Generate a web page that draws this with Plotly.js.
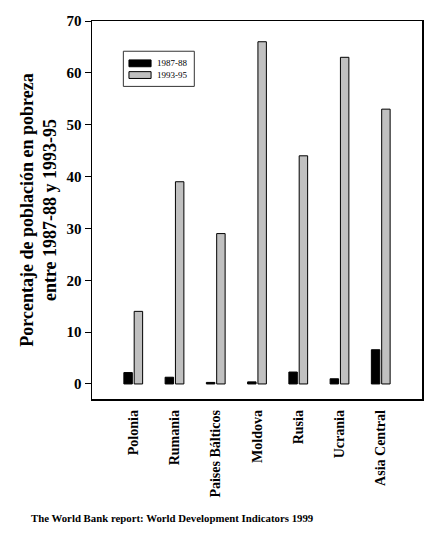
<!DOCTYPE html>
<html>
<head>
<meta charset="utf-8">
<script src="https://cdn.plot.ly/plotly-3.0.1.min.js"></script>
<style>
  html, body { margin: 0; padding: 0; background: #fff; }
  #chart { width: 443px; height: 540px; }
</style>
</head>
<body>
<div id="chart"></div>
<script>
// países / regiones
const countries = ['Polonia', 'Rumania', 'Paises Bálticos', 'Moldova', 'Rusia', 'Ucrania', 'Asia Central'];

// % de población en pobreza
const pobreza8788 = [2.2, 1.3, 0.3, 0.4, 2.3, 1.0, 6.6];
const pobreza9395 = [14, 39, 29, 66, 44, 63, 53];

const yTicks = [0, 10, 20, 30, 40, 50, 60, 70];

const serif = '"Liberation Serif", "Times New Roman", Times, serif';

const series = [
   {name: '1987-88', y: pobreza8788, color: '#000000'},
   {name: '1993-95', y: pobreza9395, color: '#c0c0c0'}
];

const data = series.map(s => ({
   type: 'bar',
   name: s.name,
   x: countries,
   y: s.y,
   marker: {color: s.color, line: {color: '#000000', width: 1}}
}));

// legend drawn by hand: plotly's bar swatch is square, the original is a wide strip
const legendShapes = [
   {type: 'rect', xref: 'paper', yref: 'paper', x0: 0.095, x1: 0.31, y0: 0.827, y1: 0.92,
      line: {color: '#333333', width: 1}, fillcolor: '#ffffff', layer: 'above'}
];
const legendNotes = [];
series.forEach((s, i) => {
   const yc = 0.888 - i * 0.031;
   legendShapes.push({
      type: 'rect', xref: 'paper', yref: 'paper',
      x0: 0.112, x1: 0.179, y0: yc - 0.009, y1: yc + 0.009,
      line: {color: '#000000', width: 1}, fillcolor: s.color, layer: 'above'
   });
   legendNotes.push({
      xref: 'paper', yref: 'paper', x: 0.19, y: yc,
      xanchor: 'left', yanchor: 'middle', showarrow: false,
      text: s.name,
      font: {family: serif, size: 9, color: '#000000'}
   });
});

const layout = {
   width: 443,
   height: 540,
   margin: {l: 92, r: 21, t: 21, b: 141},
   paper_bgcolor: '#ffffff',
   plot_bgcolor: '#ffffff',
   font: {family: serif, color: '#000000'},
   barmode: 'group',
   bargap: 0.5,
   bargroupgap: 0.18,
   showlegend: false,
   xaxis: {
      range: [-1, 7],
      showgrid: false,
      zeroline: false,
      showline: true,
      linecolor: '#000000',
      linewidth: 1.5,
      mirror: true,
      ticks: '',
      tickangle: -90,
      ticklabelstandoff: 4,
      tickfont: {family: serif, size: 14, color: '#000000', weight: 'bold'},
      fixedrange: true
   },
   yaxis: {
      range: [-2.9, 70],
      tickvals: yTicks,
      ticktext: yTicks.map(String),
      showgrid: false,
      zeroline: false,
      showline: true,
      linecolor: '#000000',
      linewidth: 1.5,
      mirror: true,
      ticks: 'outside',
      ticklen: 6,
      tickwidth: 1,
      tickcolor: '#000000',
      tickfont: {family: serif, size: 15, color: '#000000', weight: 'bold'},
      title: {
         text: 'Porcentaje de población en pobreza<br>entre 1987-88 y 1993-95',
         font: {family: serif, size: 18, color: '#000000', weight: 'bold'},
         standoff: 5
      },
      fixedrange: true
   },
   shapes: legendShapes,
   annotations: legendNotes.concat([
      {
         xref: 'paper', yref: 'paper',
         x: -0.19, y: -0.315,
         xanchor: 'left', yanchor: 'middle',
         showarrow: false,
         text: '<b>The World Bank report: World Development Indicators 1999</b>',
         font: {family: serif, size: 10.8, color: '#000000'}
      }
   ])
};

Plotly.newPlot('chart', data, layout, {displayModeBar: false, staticPlot: true});
</script>
</body>
</html>
